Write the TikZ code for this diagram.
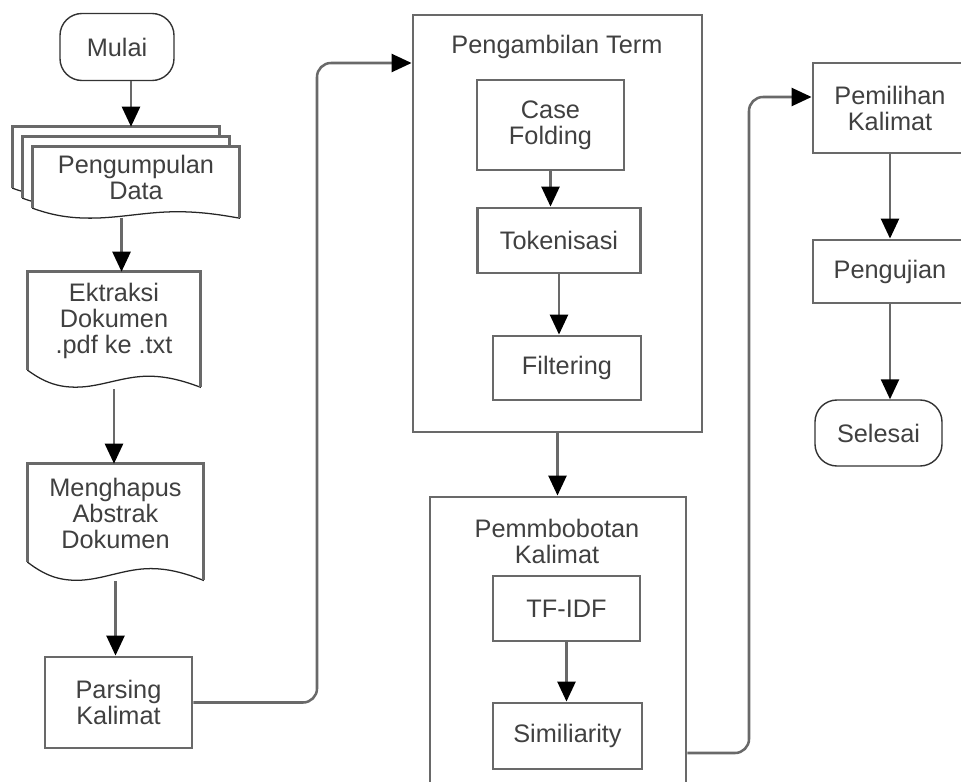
\documentclass[tikz,border=0pt]{standalone}
\usepackage{fontspec}
\setmainfont{Liberation Sans}
\usetikzlibrary{arrows.meta, calc, backgrounds}
\definecolor{linegray}{RGB}{105,105,105}
\definecolor{textgray}{RGB}{64,64,64}

% document outline under a named node: node, offset, dip of the wave
\newcommand{\docshape}[3]{%
  \draw[docwave] let \p1=($(#1.south west)+#2$), \p2=($(#1.north east)+#2$) in
    (\x1,\y1) .. controls ({\x1+0.1*(\x2-\x1)},{\y1-0.75*#3}) and ({\x1+0.18*(\x2-\x1)},{\y1-#3}) .. ({\x1+0.28*(\x2-\x1)},{\y1-#3})
    .. controls ({\x1+0.42*(\x2-\x1)},{\y1-#3}) and ({\x1+0.55*(\x2-\x1)},{\y1-0.35*#3}) .. ({\x1+0.7*(\x2-\x1)},{\y1-0.35*#3})
    .. controls ({\x1+0.82*(\x2-\x1)},{\y1-0.35*#3}) and ({\x1+0.92*(\x2-\x1)},{\y1-0.7*#3}) .. (\x2,{\y1-#3})
    -- (\x2,\y2) -- (\x1,\y2) -- cycle;
  \draw[docside] let \p1=($(#1.south west)+#2$), \p2=($(#1.north east)+#2$) in
    (\x2,{\y1-#3}) -- (\x2,\y2) -- (\x1,\y2) -- (\x1,\y1);
}

\begin{document}
\begin{tikzpicture}[x=0.025cm, y=-0.025cm,
    every node/.style={font=\fontsize{18}{18.5}\selectfont, text=textgray, align=center},
    box/.style={rectangle, draw=linegray, line width=2pt, inner sep=0pt},
    terminal/.style={rectangle, rounded corners=0.55cm, draw=black!80, line width=1pt, inner sep=0pt},
    docbox/.style={rectangle, inner sep=0pt},
    group/.style={rectangle, draw=linegray, line width=2pt, inner sep=0pt},
    arrow/.style={-{Triangle[length=0.5cm, width=0.45cm, color=black]}, draw=linegray, line width=1.8pt},
    docwave/.style={draw=black!85, line width=0.9pt, fill=white},
    docside/.style={draw=linegray, line width=2pt}
]
    \useasboundingbox (0,0) rectangle (961,782);
    \clip (0,0) rectangle (961,782);

    % Left column
    \node[terminal, minimum width=2.85cm, minimum height=1.675cm] (mulai) at (117,47) {Mulai};
    \node[docbox, minimum width=5.15cm, minimum height=1.525cm] (data) at (136,177.5) {Pengumpulan\\Data};
    \node[docbox, minimum width=4.3cm, minimum height=2.45cm] (ext) at (114,321) {Ektraksi\\Dokumen\\.pdf ke .txt};
    \node[docbox, minimum width=4.375cm, minimum height=2.45cm] (meng) at (115.5,513) {Menghapus\\Abstrak\\Dokumen};
    \node[box, minimum width=3.675cm, minimum height=2.275cm] (parse) at (118.5,702.5) {Parsing\\Kalimat};

    \begin{pgfonlayer}{background}
        \docshape{data}{(-20,-20)}{7pt}
        \docshape{data}{(-10,-10)}{7pt}
        \docshape{data}{(0,0)}{7pt}
        \docshape{ext}{(0,0)}{12pt}
        \docshape{meng}{(0,0)}{12.8pt}
    \end{pgfonlayer}

    % Pengambilan Term
    \node[group, minimum width=7.225cm, minimum height=10.425cm] (pterm) at (557.5,223.5) {};
    \node (ptermlabel) at (557,47) {Pengambilan Term};
    \node[box, minimum width=3.675cm, minimum height=2.25cm] (fold) at (550.5,125) {Case\\Folding};
    \node[box, minimum width=4.075cm, minimum height=1.625cm] (token) at (559,240.5) {Tokenisasi};
    \node[box, minimum width=3.7cm, minimum height=1.6cm] (filter) at (567,368) {Filtering};

    % Pemmbobotan Kalimat
    \node[group, minimum width=6.4cm, minimum height=7.575cm] (pbox) at (558,648.5) {};
    \node (pboxlabel) at (557,541) {Pemmbobotan\\Kalimat};
    \node[box, minimum width=3.675cm, minimum height=1.625cm] (tfidf) at (566.5,608.5) {TF-IDF};
    \node[box, minimum width=3.725cm, minimum height=1.65cm] (simi) at (567.5,736) {Similiarity};

    % Right column
    \node[box, minimum width=3.85cm, minimum height=2.25cm] (pil) at (890,108) {Pemilihan\\Kalimat};
    \node[box, minimum width=3.85cm, minimum height=1.575cm] (peng) at (890,271.5) {Pengujian};
    \node[terminal, minimum width=3.175cm, minimum height=1.65cm] (sel) at (878.5,433) {Selesai};

    % Connectors
    \coordinate (datatop) at ($(data.north)+(-5,-20)$);
    \coordinate (dataout) at ($(data.south west)!0.43!(data.south east)+(0,10)$);
    \coordinate (bend1) at (317,63);
    \coordinate (bend2) at (749,97);

    \draw[arrow] (mulai.south -| datatop) -- (datatop);
    \draw[arrow] (dataout) -- (dataout |- ext.north);
    \draw[arrow, shorten <=0.475cm] (ext.south) -- (ext.south |- meng.north);
    \draw[arrow, shorten <=0.475cm] (meng.south) -- (meng.south |- parse.north);
    \draw[arrow, rounded corners=0.35cm] (parse.east) -| (bend1) -- (pterm.west |- bend1);

    \draw[arrow] (fold.south) -- (fold.south |- token.north);
    \draw[arrow] (token.south) -- (token.south |- filter.north);
    \draw[arrow] (pterm.south) -- (pterm.south |- pbox.north);
    \draw[arrow] (tfidf.south) -- (tfidf.south |- simi.north);
    \draw[arrow, rounded corners=0.35cm] (pbox.east |- 0,753) -| (bend2) -- (pil.west |- bend2);

    \draw[arrow] (pil.south) -- (peng.north);
    \draw[arrow] (peng.south) -- (peng.south |- sel.north);
\end{tikzpicture}
\end{document}
